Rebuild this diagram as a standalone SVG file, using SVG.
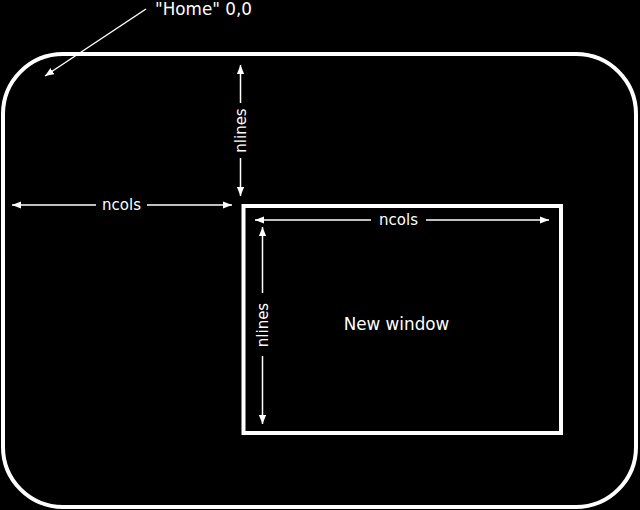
<svg xmlns="http://www.w3.org/2000/svg" width="640" height="510" viewBox="0 0 640 510">
<style>
.frame{fill:none;stroke:#fff;stroke-width:4}
.dim{fill:none;stroke:#fff;stroke-width:1.5}
text{fill:#fff;font-family:"DejaVu Sans","Liberation Sans",sans-serif}
.lbl{font-size:15px}
.big{font-size:16.8px}
</style>
<defs>
<marker id="ah" viewBox="0 0 10 8" refX="10" refY="4" markerWidth="9" markerHeight="7.5" markerUnits="userSpaceOnUse" orient="auto-start-reverse">
<path d="M0,0 L10,4 L0,8 Z" fill="#fff"/>
</marker>
</defs>
<rect width="640" height="510" fill="#000"/>
<g id="screen">
<rect class="frame" x="3" y="54" width="633" height="453" rx="60" ry="60"/>
</g>
<g id="window">
<rect class="frame" x="243.5" y="206" width="317.5" height="227"/>
<text class="big" x="396.5" y="330" text-anchor="middle">New window</text>
</g>
<g id="home">
<text class="big" x="155" y="14.5">"Home" 0,0</text>
</g>
<g id="connectors">
<line class="dim" x1="146" y1="9" x2="45" y2="76" marker-end="url(#ah)"/>
<line class="dim" x1="240.5" y1="103" x2="240.5" y2="65" marker-end="url(#ah)"/>
<line class="dim" x1="240.5" y1="158" x2="240.5" y2="196" marker-end="url(#ah)"/>
<line class="dim" x1="96" y1="205" x2="12" y2="205" marker-end="url(#ah)"/>
<line class="dim" x1="147" y1="205" x2="232" y2="205" marker-end="url(#ah)"/>
<line class="dim" x1="371" y1="220" x2="255" y2="220" marker-end="url(#ah)"/>
<line class="dim" x1="426" y1="220" x2="549" y2="220" marker-end="url(#ah)"/>
<line class="dim" x1="262.5" y1="293" x2="262.5" y2="227" marker-end="url(#ah)"/>
<line class="dim" x1="262.5" y1="356" x2="262.5" y2="424" marker-end="url(#ah)"/>
</g>
<g id="labels">
<text class="lbl" x="121.5" y="210" text-anchor="middle">ncols</text>
<text class="lbl" x="398.5" y="225" text-anchor="middle">ncols</text>
<text class="lbl" transform="translate(246,130.5) rotate(-90)" text-anchor="middle">nlines</text>
<text class="lbl" transform="translate(268,325) rotate(-90)" text-anchor="middle">nlines</text>
</g>
</svg>
